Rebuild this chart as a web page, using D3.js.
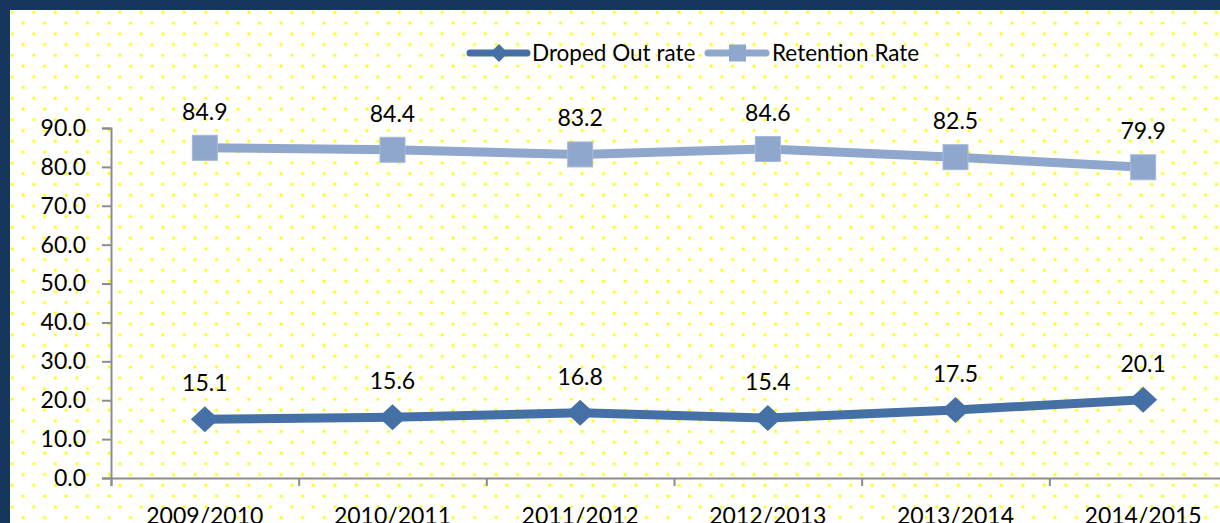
<!DOCTYPE html>
<html>
<head>
<meta charset="utf-8">
<script src="https://d3js.org/d3.v7.min.js"></script>
<style>
  html, body { margin: 0; padding: 0; background: #17365d; }
  svg { display: block; font-family: Lato, "Open Sans", sans-serif; }
</style>
</head>
<body>
<svg id="chart"></svg>
<script>
// chart data
const years = ["2009/2010", "2010/2011", "2011/2012", "2012/2013", "2013/2014", "2014/2015"];
const dropedOut = [15.1, 15.6, 16.8, 15.4, 17.5, 20.1];
const retention = [84.9, 84.4, 83.2, 84.6, 82.5, 79.9];
const yTicks = [0, 10, 20, 30, 40, 50, 60, 70, 80, 90];
const seriesNames = ["Droped Out rate", "Retention Rate"];

const width = 1220, height = 523;
const darkBlue = "#4470a5", lightBlue = "#8fa7cd";

const svg = d3.select("#chart").attr("width", width).attr("height", height);

// dotted background
const defs = svg.append("defs");
const pat = defs.append("pattern")
  .attr("id", "dots")
  .attr("patternUnits", "userSpaceOnUse")
  .attr("x", 7.3).attr("y", 7.3)
  .attr("width", 21.5).attr("height", 21.5);
pat.append("rect").attr("width", 21.5).attr("height", 21.5).attr("fill", "#fff");
pat.append("circle").attr("cx", 5).attr("cy", 5).attr("r", 1.6).attr("fill", "#ffff00");
pat.append("circle").attr("cx", 15.75).attr("cy", 15.75).attr("r", 1.6).attr("fill", "#ffff00");

svg.append("rect").attr("width", width).attr("height", height).attr("fill", "#17365d");
svg.append("rect").attr("x", 10).attr("y", 10).attr("width", width - 10).attr("height", height - 10)
  .attr("fill", "url(#dots)");

// scales
const x = d3.scaleBand().domain(years).range([111, 1237]);
const xi = d3.scaleLinear().domain([0, years.length]).range([111, 1237]);
const y = d3.scaleLinear().domain([0, 90]).range([478, 128]);
const cx = d => x(d) + x.bandwidth() / 2;

// axes
const yAxis = svg.append("g").attr("transform", "translate(111,0)")
  .call(d3.axisLeft(y).tickValues(yTicks).tickFormat(d3.format(".1f")).tickSize(9).tickPadding(16));
yAxis.selectAll("text").attr("font-size", 23).attr("fill", "#000").attr("font-family", "Lato");

const xAxis = svg.append("g").attr("transform", "translate(0,478)")
  .call(d3.axisBottom(xi).tickValues(d3.range(years.length + 1)).tickFormat("").tickSize(8));

svg.selectAll(".domain, .tick line").attr("stroke", "#8c8c8c").attr("stroke-width", 2);

svg.append("g").selectAll("text").data(years).join("text")
  .attr("x", d => cx(d)).attr("y", 524)
  .attr("text-anchor", "middle").attr("font-size", 23).attr("fill", "#000")
  .text(d => d);

// lines
const line = d3.line().x((d, i) => cx(years[i])).y(d => y(d));

svg.append("path").datum(retention).attr("d", line)
  .attr("fill", "none").attr("stroke", lightBlue).attr("stroke-width", 9);
svg.append("path").datum(dropedOut).attr("d", line)
  .attr("fill", "none").attr("stroke", darkBlue).attr("stroke-width", 9);

// markers
svg.append("g").selectAll("rect").data(retention).join("rect")
  .attr("x", (d, i) => cx(years[i]) - 12.5).attr("y", d => y(d) - 12.5)
  .attr("width", 25).attr("height", 25)
  .attr("fill", lightBlue).attr("stroke", "#a7b9d8").attr("stroke-width", 1);

const diamond = "M0,-13 L14,0 L0,13 L-14,0 Z";
svg.append("g").selectAll("path").data(dropedOut).join("path")
  .attr("transform", (d, i) => `translate(${cx(years[i])},${y(d)})`)
  .attr("d", diamond).attr("fill", darkBlue);

// data labels
const labels = svg.append("g").attr("font-size", 23).attr("fill", "#000").attr("text-anchor", "middle");
labels.selectAll("text.r").data(retention).join("text").attr("class", "r")
  .attr("x", (d, i) => cx(years[i])).attr("y", d => y(d) - 28)
  .text(d => d.toFixed(1));
labels.selectAll("text.d").data(dropedOut).join("text").attr("class", "d")
  .attr("x", (d, i) => cx(years[i])).attr("y", d => y(d) - 28)
  .text(d => d.toFixed(1));

// legend
const legend = svg.append("g").attr("font-size", 22.5).attr("fill", "#000");
const lg1 = legend.append("g").attr("transform", "translate(470,53)");
lg1.append("line").attr("x1", 0).attr("x2", 57).attr("stroke", darkBlue)
  .attr("stroke-width", 7).attr("stroke-linecap", "round");
lg1.append("path").attr("d", "M0,-9 L9,0 L0,9 L-9,0 Z").attr("transform", "translate(29,0)").attr("fill", darkBlue);
lg1.append("text").attr("x", 62).attr("dy", "0.35em").text(seriesNames[0]);

const lg2 = legend.append("g").attr("transform", "translate(708,53)");
lg2.append("line").attr("x1", 0).attr("x2", 58).attr("stroke", lightBlue)
  .attr("stroke-width", 7).attr("stroke-linecap", "round");
lg2.append("rect").attr("x", 21).attr("y", -8.5).attr("width", 17).attr("height", 17).attr("fill", lightBlue);
lg2.append("text").attr("x", 64).attr("dy", "0.35em").text(seriesNames[1]);
</script>
</body>
</html>
